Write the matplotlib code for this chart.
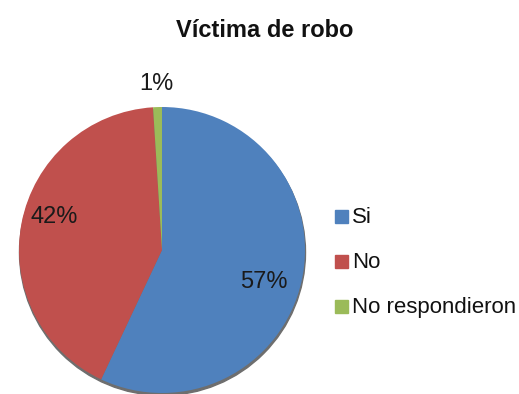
import numpy as np
import matplotlib
matplotlib.use("Agg")
import matplotlib.pyplot as plt
from matplotlib.patches import Circle, Rectangle

plt.rcParams['font.family'] = ['Liberation Sans Narrow', 'Liberation Sans', 'DejaVu Sans']

titulo = "Víctima de robo"
categorias = ["Si", "No", "No respondieron"]
porcentajes = [57, 42, 1]
colores = ["#4F81BD", "#C0504D", "#9BBB59"]
# distancia radial y giro (grados) de cada etiqueta de porcentaje
dist_etiquetas = [0.75, 0.79, 1.16]
giro_etiquetas = [-5, -6, 0]

W, H = 519, 394
fig = plt.figure(figsize=(W / 100, H / 100), dpi=100)
ax = fig.add_axes([0, 0, 1, 1])

cx, cy, r = 162, 144, 143

# sombra inferior del disco
ax.add_patch(Circle((cx + 0.5, cy - 2.5), r, color="#6e6e6e", zorder=0))

wedges, _ = ax.pie(porcentajes, colors=colores, startangle=90, counterclock=False,
                   center=(cx, cy), radius=r,
                   wedgeprops=dict(linewidth=0))

for w, d, g, p in zip(wedges, dist_etiquetas, giro_etiquetas, porcentajes):
    ang = np.deg2rad((w.theta1 + w.theta2) / 2 + g)
    ax.text(cx + d * r * np.cos(ang), cy + d * r * np.sin(ang), f"{p}%",
            ha="center", va="center", fontsize=17, color="#1a1a1a")

ax.set_xlim(0, W)
ax.set_ylim(0, H)
ax.set_aspect("auto")
ax.axis("off")

ax.text(265, H - 30, titulo, ha="center", va="center", fontsize=17,
        fontweight="bold", color="#111111")

# leyenda
for i, (cat, col) in enumerate(zip(categorias, colores)):
    y = H - 217 - i * 45
    ax.add_patch(Rectangle((335, y - 6), 13, 13, color=col))
    ax.text(352, y, cat, ha="left", va="center", fontsize=16, color="#111111")

fig.savefig("out.png", dpi=100)
